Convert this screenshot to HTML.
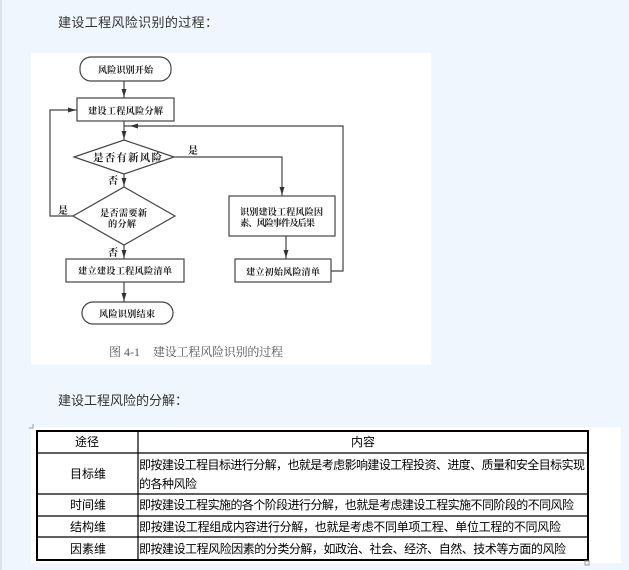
<!DOCTYPE html>
<html><head><meta charset="utf-8"><style>
html,body{margin:0;padding:0;background:#f0f6fd;}
svg{display:block;}
.h{font-family:"Liberation Sans","Noto Sans CJK SC",sans-serif;font-size:13px;fill:#333;}
.f{font-family:"Liberation Serif","Noto Serif CJK SC",serif;font-size:9.2px;fill:#222;font-weight:bold;}
.t{font-family:"Liberation Sans","Noto Sans CJK SC",sans-serif;font-size:12px;fill:#000;}
</style></head><body>
<svg width="629" height="570" viewBox="0 0 629 570" xmlns="http://www.w3.org/2000/svg">
<rect x="0" y="0" width="629" height="570" fill="#f0f6fd"/>
<line x1="1" y1="0" x2="1" y2="570" stroke="#c9ced6" stroke-width="1"/>

<text class="h" x="58" y="27" textLength="160">建设工程风险识别的过程：</text>

<rect x="31" y="53" width="400" height="312" fill="#fff"/>

<g fill="none" stroke="#444" stroke-width="1.2">
<rect x="80" y="57" width="91" height="24" rx="11"/>
<rect x="77" y="98" width="97" height="23"/>
<polygon points="124,140 174,157 124,174 74,157"/>
<polygon points="124,187 175,216 124,245 73,216"/>
<rect x="66" y="259" width="118" height="23"/>
<rect x="82" y="302" width="91" height="22" rx="11"/>
<rect x="229" y="196" width="106" height="40"/>
<rect x="235" y="259" width="96" height="23"/>
<polyline points="124,81 124,98"/>
<polyline points="124,121 124,140"/>
<polyline points="331,271 343,271 343,126 124,126"/>
<polyline points="174,157 282,157 282,196"/>
<polyline points="124,174 124,187"/>
<polyline points="124,245 124,259"/>
<polyline points="124,282 124,302"/>
<polyline points="286,236 286,259"/>
<polyline points="73,216 50,216 50,110 77,110"/>
</g>
<g fill="#333">
<polygon points="124,97 121.5,89 126.5,89"/>
<polygon points="124,139 121.5,131 126.5,131"/>
<polygon points="130,126 138,123.5 138,128.5"/>
<polygon points="282,195 279.5,187 284.5,187"/>
<polygon points="124,186 121.5,178 126.5,178"/>
<polygon points="124,258 121.5,250 126.5,250"/>
<polygon points="124,301 121.5,293 126.5,293"/>
<polygon points="286,258 283.5,250 288.5,250"/>
<polygon points="76,110 68,107.5 68,112.5"/>
</g>

<g class="f">
<text x="98" y="73" textLength="55">风险识别开始</text>
<text x="88" y="114" textLength="75">建设工程风险分解</text>
<text x="93" y="161" textLength="69" style="font-size:10.5px">是否有新风险</text>
<text x="188" y="154" style="font-size:10px">是</text>
<text x="108" y="184" style="font-size:10px">否</text>
<text x="100" y="216" textLength="47">是否需要新</text>
<text x="108" y="227" textLength="28">的分解</text>
<text x="58" y="214" style="font-size:10px">是</text>
<text x="108" y="256" style="font-size:10px">否</text>
<text x="78" y="274" textLength="94">建立建设工程风险清单</text>
<text x="99" y="317" textLength="56">风险识别结束</text>
<text x="240" y="215" textLength="83">识别建设工程风险因</text>
<text x="240" y="226" textLength="75">素、风险事件及后果</text>
<text x="246" y="275" textLength="74">建立初始风险清单</text>
</g>
<text x="109" y="356" style="font-family:'Liberation Serif','Noto Serif CJK SC',serif;font-size:12px;fill:#555">图 4-1</text>
<text x="153" y="356" style="font-family:'Liberation Serif','Noto Serif CJK SC',serif;font-size:12px;fill:#555" textLength="130">建设工程风险识别的过程</text>

<text class="h" x="58" y="405" textLength="130">建设工程风险的分解：</text>

<rect x="31" y="427" width="590" height="136" fill="#fff"/>
<rect x="37" y="431" width="551" height="129" fill="none" stroke="#000" stroke-width="2"/>
<g stroke="#000" stroke-width="1.2">
<line x1="138" y1="431" x2="138" y2="560"/>
<line x1="37" y1="453" x2="588" y2="453"/>
<line x1="37" y1="494" x2="588" y2="494"/>
<line x1="37" y1="516" x2="588" y2="516"/>
<line x1="37" y1="537" x2="588" y2="537"/>
</g>
<g class="t">
<text x="87" y="446" text-anchor="middle">途径</text>
<text x="363" y="446" text-anchor="middle">内容</text>
<text x="88" y="478" text-anchor="middle">目标维</text>
<text x="88" y="509" text-anchor="middle">时间维</text>
<text x="88" y="531" text-anchor="middle">结构维</text>
<text x="88" y="553" text-anchor="middle">因素维</text>
<text x="139" y="469" textLength="446">即按建设工程目标进行分解，也就是考虑影响建设工程投资、进度、质量和安全目标实现</text>
<text x="139" y="488" textLength="58">的各种风险</text>
<text x="139" y="509" textLength="435">即按建设工程实施的各个阶段进行分解，也就是考虑建设工程实施不同阶段的不同风险</text>
<text x="139" y="531" textLength="422">即按建设工程组成内容进行分解，也就是考虑不同单项工程、单位工程的不同风险</text>
<text x="139" y="553" textLength="427">即按建设工程风险因素的分类分解，如政治、社会、经济、自然、技术等方面的风险</text>
</g>
<path d="M29 428 L33 428 L33 424" fill="none" stroke="#999" stroke-width="1"/>
<rect x="585" y="561" width="4" height="4" fill="none" stroke="#999" stroke-width="1"/>
</svg>
</body></html>
